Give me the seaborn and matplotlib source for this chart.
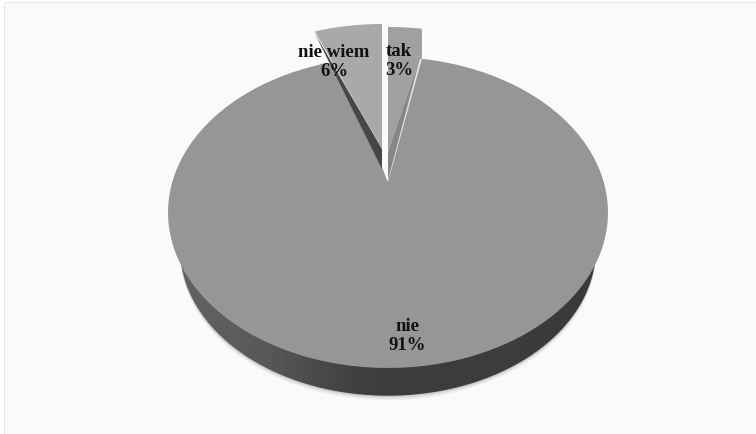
import numpy as np
import matplotlib
matplotlib.use("Agg")
import matplotlib.pyplot as plt
from matplotlib.patches import Rectangle, Polygon
import seaborn as sns

categories = ["tak", "nie", "nie wiem"]
shares = [3, 91, 6]
slice_labels = ["tak\n3%", "nie\n91%", "nie wiem\n6%"]

sns.set_theme(style="white")
plt.rcParams["font.family"] = ["Liberation Serif", "DejaVu Serif"]

# Pie geometry, in figure pixels
APEX_X, APEX_Y = 388, 183
RX, RY, TILT = 215.7, 149.5, 0.196
DEPTH_SCALE, DEPTH_DROP = 0.945, 38


def project(theta):
    """Tilted view of a disc; theta is measured clockwise from 12 o'clock."""
    u, v = np.sin(theta), np.cos(theta)
    w = 1 + TILT * v
    return RX * u / w, -RY * v / w


def arc(start, stop, n=240):
    return project(np.linspace(start, stop, n))


fig = plt.figure(figsize=(7.56, 4.35), dpi=100, facecolor="#ffffff")
ax = fig.add_axes([0, 0, 1, 1])
ax.set_xlim(0, 756)
ax.set_ylim(435, 0)
ax.axis("off")

# Chart area with its soft top and left border
ax.add_patch(Rectangle((5, 4), 751, 431, fc="#fafafa", lw=0))
ax.plot([5, 5, 756], [435, 4, 4], color="#e2e2e2", lw=2, zorder=0.5)

edges = np.cumsum([0] + shares) / sum(shares) * 2 * np.pi
tak_a, tak_b = edges[0], edges[1]
nie_a, nie_b = edges[1], edges[2]
wiem_a, wiem_b = edges[2], edges[3]

# Lower side of the large slice: soft shadow, shaded rim, then the top face
fx, fy = project(np.linspace(0, 2 * np.pi, 720))
keep = fy > 30
order = np.argsort(np.arctan2(fy[keep] - 30, fx[keep]))
bx = APEX_X + DEPTH_SCALE * fx[keep][order]
by = APEX_Y + DEPTH_DROP + DEPTH_SCALE * fy[keep][order]
for grow, alpha in zip([5, 4, 3, 2, 1], [0.02, 0.03, 0.04, 0.05, 0.07]):
    ax.fill(bx, by + grow, color="black", alpha=alpha, lw=0, zorder=1)
body = ax.fill(bx, by, color="none", lw=0, zorder=2)[0]
shade = np.array([[0.38, 0.36, 0.33, 0.28, 0.24, 0.24, 0.24, 0.24, 0.23, 0.23]])
img = ax.imshow(shade, cmap="gray", vmin=0, vmax=1, aspect="auto",
                extent=(178, 598, 435, 0), interpolation="bicubic", zorder=2)
img.set_clip_path(body)
ax.set_xlim(0, 756)
ax.set_ylim(435, 0)

MAIN = "#969696"
nx, ny = arc(nie_a, nie_b)
ax.fill(np.r_[APEX_X, APEX_X + nx], np.r_[APEX_Y, APEX_Y + ny],
        color=MAIN, lw=0, zorder=3)

# Pulled-out slices, each with its inner wall
tak_top = (APEX_X, APEX_Y - 30)
tx, ty = arc(tak_a, tak_b, 40)
rim_x, rim_y = project(tak_b)
ax.fill(np.r_[tak_top[0], tak_top[0] + tx, APEX_X + rim_x, APEX_X],
        np.r_[tak_top[1], tak_top[1] + ty, APEX_Y + rim_y, APEX_Y],
        color="#e2e2e2", lw=0, zorder=2.4)
ax.fill(np.r_[tak_top[0], tak_top[0] + tx, tak_top[0] + tx[-1], APEX_X + rim_x - 2],
        np.r_[tak_top[1], tak_top[1] + ty, APEX_Y + rim_y, APEX_Y + rim_y],
        color="#a0a0a0", lw=0, zorder=2.5)
ax.add_patch(Polygon([(APEX_X + rim_x - 2, APEX_Y + rim_y), tak_top, (APEX_X, APEX_Y - 2)],
                     fc="#868686", lw=0, zorder=2.6))

wiem_top = (APEX_X - 6, APEX_Y - 33)
wx, wy = arc(wiem_a, wiem_b, 60)
wall_start = (wiem_top[0] + wx[0], wiem_top[1] + wy[0] + 2)
wall_end = (wiem_top[0], APEX_Y - 13)
# The large slice reaches up to the wall of its neighbour
edge_x, edge_y = project(wiem_a)
edge_point = (APEX_X + edge_x, APEX_Y + edge_y)
blend = (edge_point[1] - wall_start[1]) / (wall_end[1] - wall_start[1])
wall_at_edge = (wall_start[0] + blend * (wall_end[0] - wall_start[0]), edge_point[1])
ax.add_patch(Polygon([edge_point, wall_at_edge, wall_end, (APEX_X - 1, APEX_Y)],
                     fc=MAIN, ec=MAIN, lw=1, zorder=2.4))
ax.add_patch(Polygon([wall_start, wiem_top, wall_end], fc="#464646", lw=0, zorder=2.6))
ax.fill(np.r_[wiem_top[0], wiem_top[0] + wx], np.r_[wiem_top[1], wiem_top[1] + wy],
        color="#a9a9a9", lw=0, zorder=2.7)

# Slice labels
label_pos = [(399, 61), (407, 336), (334, 62)]
for label, (x, y) in zip(slice_labels, label_pos):
    ax.text(x, y, label, ha="center", va="center", fontsize=13.5,
            fontweight="bold", color="#111111", linespacing=1.1, zorder=5)

fig.savefig("out.png", dpi=100)
